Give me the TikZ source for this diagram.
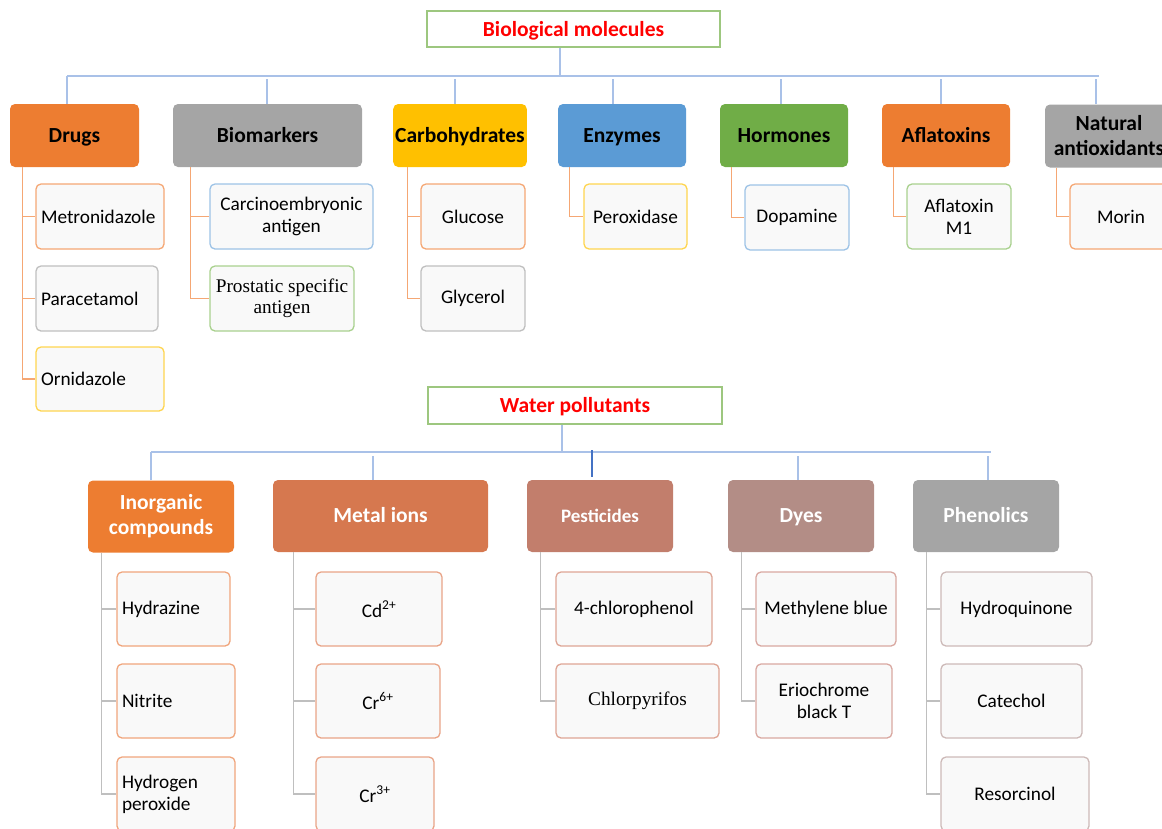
\documentclass[tikz,border=0pt]{standalone}
\usepackage{fontspec}
\setmainfont{Carlito}
\newfontfamily\timesf{Liberation Serif}
\usetikzlibrary{positioning}
\definecolor{cOrange}{HTML}{ED7D31}
\definecolor{cGray}{HTML}{A5A5A5}
\definecolor{cGold}{HTML}{FFC000}
\definecolor{cBlue}{HTML}{5B9BD5}
\definecolor{cGreen}{HTML}{70AD47}
\definecolor{cMetal}{HTML}{D6784F}
\definecolor{cPest}{HTML}{C27E6C}
\definecolor{cDyes}{HTML}{B38D86}
\definecolor{cTitleB}{HTML}{9DC77F}
\definecolor{cBus}{HTML}{A9C1E8}
\definecolor{cBusDark}{HTML}{4472C4}
\definecolor{cConO}{HTML}{F5A774}
\definecolor{cConG}{HTML}{BFBFBF}
\definecolor{bOrange}{HTML}{F5A774}
\definecolor{bGray}{HTML}{BFBFBF}
\definecolor{bYellow}{HTML}{FFD54F}
\definecolor{bBlue}{HTML}{9DC3E6}
\definecolor{bGreen}{HTML}{A9D18E}
\definecolor{bInorg}{HTML}{F0A57C}
\definecolor{bMetal}{HTML}{E9A487}
\definecolor{bPest}{HTML}{DEA595}
\definecolor{bDyes}{HTML}{D9A8A1}
\definecolor{bPhen}{HTML}{CDBAB8}
\definecolor{leafFill}{HTML}{F9F9F9}
\tikzset{
  titlebox/.style={draw=cTitleB, line width=1.2pt, fill=white, text=red,
    font=\fontsize{21.5}{24}\selectfont\bfseries, inner sep=0pt,
    text height=19pt, text depth=5pt},
  headbox/.style={rounded corners=5pt, inner sep=2pt, align=center,
    font=\fontsize{21.5}{25}\selectfont\bfseries},
  oneline/.style={text height=18pt, text depth=5pt},
  leafbox/.style={rounded corners=5pt, fill=leafFill, line width=1.3pt,
    inner sep=2pt, align=center, font=\fontsize{19.3}{22}\selectfont},
  leftleaf/.style={leafbox, align=left, text width=#1, inner xsep=5pt},
  bus/.style={draw=cBus, line width=1.3pt},
  conO/.style={draw=cConO, line width=1.3pt},
  conG/.style={draw=cConG, line width=1.3pt},
}
\begin{document}
\begin{tikzpicture}[x=1pt,y=-1pt]
\useasboundingbox (0,0) rectangle (1162,828);
\clip (0,0) rectangle (1162,828);

% ---------------- Biological molecules ----------------
\node[titlebox, minimum width=293, minimum height=36] (bio) at (573.5,29) {Biological molecules};
\coordinate (busL) at (67,76);
\coordinate (busR) at (1099,76);

\node[headbox, oneline, fill=cOrange, minimum width=129, minimum height=63] (drugs) at (74.5,135.5) {Drugs};
\node[headbox, oneline, fill=cGray, minimum width=189, minimum height=63] (biom) at (267.5,135.5) {Biomarkers};
\node[headbox, oneline, fill=cGold, minimum width=128, minimum height=63] (carb) at (460,135.5) {Carbohydrates};
\node[headbox, oneline, fill=cBlue, minimum width=128, minimum height=63] (enz) at (622,135.5) {Enzymes};
\node[headbox, oneline, fill=cGreen, minimum width=128, minimum height=63] (horm) at (784,135.5) {Hormones};
\node[headbox, oneline, fill=cOrange, minimum width=128, minimum height=63] (afla) at (946,135.5) {Aflatoxins};
\node[headbox, fill=cGray, minimum width=128, minimum height=63] (nat) at (1109,136) {Natural\\antioxidants};

\draw[bus] ([xshift=-13.5pt]bio.south) -- ([xshift=-13.5pt]bio.south |- busL);
\draw[bus] (busL) -- (busR);
\draw[bus] ([xshift=-7.5pt]drugs.north) -- ([xshift=-7.5pt]drugs.north |- busL);
\draw[bus] ([xshift=-0.5pt]biom.north) -- ++(0,-25);
\draw[bus] ([xshift=-5pt]carb.north) -- ++(0,-25);
\draw[bus] ([xshift=-9pt]enz.north) -- ++(0,-25);
\draw[bus] ([xshift=-3pt]horm.north) -- ++(0,-25);
\draw[bus] ([xshift=-5pt]afla.north) -- ++(0,-25);
\draw[bus] ([xshift=-13pt]nat.north) -- ++(0,-25);

% leaves top
\node[leftleaf=118, draw=bOrange, minimum width=128, minimum height=65] (metro) at (100,216.5) {Metronidazole};
\node[leftleaf=112, draw=bGray, minimum width=122, minimum height=65] (para) at (97,298.5) {Paracetamol};
\node[leftleaf=118, draw=bYellow, minimum width=128, minimum height=64] (ornid) at (100,379) {Ornidazole};
\node[leafbox, draw=bBlue, minimum width=163, minimum height=65] (cea) at (291.5,216.5) {Carcinoembryonic\\antigen};
\node[leafbox, draw=bGreen, minimum width=144, minimum height=65, font=\fontsize{19.3}{21}\timesf] (psa) at (282,298.5) {Prostatic specific\\antigen};
\node[leafbox, draw=bOrange, minimum width=104, minimum height=65] (gluc) at (473,216.5) {Glucose};
\node[leafbox, draw=bGray, minimum width=104, minimum height=65] (glyc) at (473,298.5) {Glycerol};
\node[leafbox, draw=bYellow, minimum width=103, minimum height=65] (perox) at (635.5,216.5) {Peroxidase};
\node[leafbox, draw=bBlue, minimum width=104, minimum height=65] (dopa) at (797,217.5) {Dopamine};
\node[leafbox, draw=bGreen, minimum width=104, minimum height=65] (afm) at (959,216.5) {Aflatoxin\\M1};
\node[leafbox, draw=bOrange, minimum width=102, minimum height=65] (morin) at (1121,216.5) {Morin};

\draw[conO] ([xshift=-13pt]ornid.west |- drugs.south) |- (ornid.west);
\draw[conO] ([xshift=-13pt]metro.west) -- (metro.west);
\draw[conO] ([xshift=-13pt]para.west) -- (para.west);
\draw[conO] ([xshift=-19pt]psa.west |- biom.south) |- (psa.west);
\draw[conO] ([xshift=-19pt]cea.west) -- (cea.west);
\draw[conO] ([xshift=-13pt]glyc.west |- carb.south) |- (glyc.west);
\draw[conO] ([xshift=-13pt]gluc.west) -- (gluc.west);
\draw[conO] ([xshift=-14pt]perox.west |- enz.south) |- (perox.west);
\draw[conO] ([xshift=-13pt]dopa.west |- horm.south) |- (dopa.west);
\draw[conO] ([xshift=-13pt]afm.west |- afla.south) |- (afm.west);
\draw[conO] ([xshift=-13pt]morin.west |- nat.south) |- (morin.west);

% ---------------- Water pollutants ----------------
\node[titlebox, minimum width=294, minimum height=37] (water) at (575,405.5) {Water pollutants};
\coordinate (wbusL) at (151,452);
\coordinate (wbusR) at (991,452);

\node[headbox, fill=cOrange, text=white, minimum width=146, minimum height=72] (inorg) at (161,516.5) {Inorganic\\compounds};
\node[headbox, oneline, fill=cMetal, text=white, minimum width=215, minimum height=72] (metal) at (380.5,516) {Metal ions};
\node[headbox, oneline, fill=cPest, text=white, minimum width=146, minimum height=72, font=\fontsize{19}{22}\selectfont\bfseries] (pest) at (600,516) {Pesticides};
\node[headbox, oneline, fill=cDyes, text=white, minimum width=146, minimum height=72] (dyes) at (801,516) {Dyes};
\node[headbox, oneline, fill=cGray, text=white, minimum width=146, minimum height=72] (phen) at (986,516) {Phenolics};

\draw[bus] ([xshift=-13pt]water.south) -- ([xshift=-13pt]water.south |- wbusL);
\draw[bus] (wbusL) -- (wbusR);
\draw[bus] ([xshift=-10pt]inorg.north) -- ([xshift=-10pt]inorg.north |- wbusL);
\draw[bus] ([xshift=-7.5pt]metal.north) -- ++(0,-24);
\draw[draw=cBusDark, line width=1.2pt] ([xshift=-8pt, yshift=3pt]pest.north) -- ++(0,-27);
\draw[bus] ([xshift=-3pt]dyes.north) -- ++(0,-24);
\draw[bus] ([xshift=2pt]phen.north) -- ++(0,-24);

% leaves bottom
\node[leftleaf=103, draw=bInorg, minimum width=113, minimum height=74] (hydr) at (173.5,609) {Hydrazine};
\node[leftleaf=108, draw=bInorg, minimum width=118, minimum height=74] (nitr) at (176,701) {Nitrite};
\node[leftleaf=108, draw=bInorg, minimum width=118, minimum height=74] (hper) at (176,794) {Hydrogen\\peroxide};
\node[leafbox, draw=bMetal, minimum width=126, minimum height=74] (cd) at (379,609) {Cd\textsuperscript{2+}};
\node[leafbox, draw=bMetal, minimum width=124, minimum height=74] (crsix) at (378,701) {Cr\textsuperscript{6+}};
\node[leafbox, draw=bMetal, minimum width=118, minimum height=74] (crthree) at (375,794) {Cr\textsuperscript{3+}};
\node[leafbox, draw=bPest, minimum width=156, minimum height=74] (chph) at (634,609) {4-chlorophenol};
\node[leafbox, draw=bPest, minimum width=163, minimum height=74, font=\fontsize{19.3}{22}\timesf] (chpy) at (637.5,701) {Chlorpyrifos};
\node[leafbox, draw=bDyes, minimum width=140, minimum height=74] (mb) at (826,609) {Methylene blue};
\node[leafbox, draw=bDyes, minimum width=136, minimum height=74] (ebt) at (824,701) {Eriochrome\\black T};
\node[leafbox, draw=bPhen, minimum width=151, minimum height=74] (hq) at (1016.5,609) {Hydroquinone};
\node[leafbox, draw=bPhen, minimum width=141, minimum height=74] (cat) at (1011.5,701) {Catechol};
\node[leafbox, draw=bPhen, minimum width=148, minimum height=74] (res) at (1015,794) {Resorcinol};

\draw[conG] ([xshift=-15pt]hper.west |- inorg.south) |- (hper.west);
\draw[conG] ([xshift=-15pt]hydr.west) -- (hydr.west);
\draw[conG] ([xshift=-15pt]nitr.west) -- (nitr.west);
\draw[conG] ([xshift=-22pt]crthree.west |- metal.south) |- (crthree.west);
\draw[conG] ([xshift=-22pt]cd.west) -- (cd.west);
\draw[conG] ([xshift=-22pt]crsix.west) -- (crsix.west);
\draw[conG] ([xshift=-15pt]chpy.west |- pest.south) |- (chpy.west);
\draw[conG] ([xshift=-15pt]chph.west) -- (chph.west);
\draw[conG] ([xshift=-14pt]ebt.west |- dyes.south) |- (ebt.west);
\draw[conG] ([xshift=-14pt]mb.west) -- (mb.west);
\draw[conG] ([xshift=-14pt]res.west |- phen.south) |- (res.west);
\draw[conG] ([xshift=-14pt]hq.west) -- (hq.west);
\draw[conG] ([xshift=-14pt]cat.west) -- (cat.west);
\end{tikzpicture}
\end{document}
